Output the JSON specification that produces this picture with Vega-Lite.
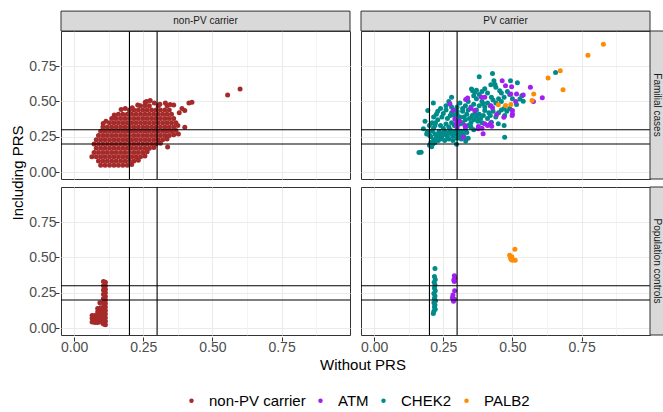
{
"$schema":"https://vega.github.io/schema/vega-lite/v6.json",
"padding":{"left":10,"top":10,"right":0,"bottom":0},
"data":{"values":[
{"gene":"non-PV carrier","cohort":"Familial cases","without":0.096,"with":0.05},{"gene":"non-PV carrier","cohort":"Familial cases","without":0.112,"with":0.05},{"gene":"non-PV carrier","cohort":"Familial cases","without":0.128,"with":0.05},{"gene":"non-PV carrier","cohort":"Familial cases","without":0.144,"with":0.05},{"gene":"non-PV carrier","cohort":"Familial cases","without":0.16,"with":0.05},{"gene":"non-PV carrier","cohort":"Familial cases","without":0.176,"with":0.05},{"gene":"non-PV carrier","cohort":"Familial cases","without":0.192,"with":0.05},{"gene":"non-PV carrier","cohort":"Familial cases","without":0.208,"with":0.055},
{"gene":"non-PV carrier","cohort":"Familial cases","without":0.088,"with":0.08},{"gene":"non-PV carrier","cohort":"Familial cases","without":0.104,"with":0.08},{"gene":"non-PV carrier","cohort":"Familial cases","without":0.12,"with":0.08},{"gene":"non-PV carrier","cohort":"Familial cases","without":0.136,"with":0.08},{"gene":"non-PV carrier","cohort":"Familial cases","without":0.152,"with":0.08},{"gene":"non-PV carrier","cohort":"Familial cases","without":0.168,"with":0.08},{"gene":"non-PV carrier","cohort":"Familial cases","without":0.184,"with":0.08},{"gene":"non-PV carrier","cohort":"Familial cases","without":0.2,"with":0.08},{"gene":"non-PV carrier","cohort":"Familial cases","without":0.216,"with":0.08},{"gene":"non-PV carrier","cohort":"Familial cases","without":0.232,"with":0.085},
{"gene":"non-PV carrier","cohort":"Familial cases","without":0.064,"with":0.11},{"gene":"non-PV carrier","cohort":"Familial cases","without":0.08,"with":0.11},{"gene":"non-PV carrier","cohort":"Familial cases","without":0.096,"with":0.11},{"gene":"non-PV carrier","cohort":"Familial cases","without":0.112,"with":0.11},{"gene":"non-PV carrier","cohort":"Familial cases","without":0.128,"with":0.11},{"gene":"non-PV carrier","cohort":"Familial cases","without":0.144,"with":0.11},{"gene":"non-PV carrier","cohort":"Familial cases","without":0.16,"with":0.11},{"gene":"non-PV carrier","cohort":"Familial cases","without":0.176,"with":0.11},{"gene":"non-PV carrier","cohort":"Familial cases","without":0.192,"with":0.11},{"gene":"non-PV carrier","cohort":"Familial cases","without":0.208,"with":0.11},{"gene":"non-PV carrier","cohort":"Familial cases","without":0.224,"with":0.11},{"gene":"non-PV carrier","cohort":"Familial cases","without":0.24,"with":0.11},{"gene":"non-PV carrier","cohort":"Familial cases","without":0.256,"with":0.115},
{"gene":"non-PV carrier","cohort":"Familial cases","without":0.072,"with":0.14},{"gene":"non-PV carrier","cohort":"Familial cases","without":0.088,"with":0.14},{"gene":"non-PV carrier","cohort":"Familial cases","without":0.104,"with":0.14},{"gene":"non-PV carrier","cohort":"Familial cases","without":0.12,"with":0.14},{"gene":"non-PV carrier","cohort":"Familial cases","without":0.136,"with":0.14},{"gene":"non-PV carrier","cohort":"Familial cases","without":0.152,"with":0.14},{"gene":"non-PV carrier","cohort":"Familial cases","without":0.168,"with":0.14},{"gene":"non-PV carrier","cohort":"Familial cases","without":0.184,"with":0.14},{"gene":"non-PV carrier","cohort":"Familial cases","without":0.2,"with":0.14},{"gene":"non-PV carrier","cohort":"Familial cases","without":0.216,"with":0.14},{"gene":"non-PV carrier","cohort":"Familial cases","without":0.232,"with":0.14},{"gene":"non-PV carrier","cohort":"Familial cases","without":0.248,"with":0.14},{"gene":"non-PV carrier","cohort":"Familial cases","without":0.264,"with":0.145},
{"gene":"non-PV carrier","cohort":"Familial cases","without":0.08,"with":0.17},{"gene":"non-PV carrier","cohort":"Familial cases","without":0.096,"with":0.17},{"gene":"non-PV carrier","cohort":"Familial cases","without":0.112,"with":0.17},{"gene":"non-PV carrier","cohort":"Familial cases","without":0.128,"with":0.17},{"gene":"non-PV carrier","cohort":"Familial cases","without":0.144,"with":0.17},{"gene":"non-PV carrier","cohort":"Familial cases","without":0.16,"with":0.17},{"gene":"non-PV carrier","cohort":"Familial cases","without":0.176,"with":0.17},{"gene":"non-PV carrier","cohort":"Familial cases","without":0.192,"with":0.17},{"gene":"non-PV carrier","cohort":"Familial cases","without":0.208,"with":0.17},{"gene":"non-PV carrier","cohort":"Familial cases","without":0.224,"with":0.17},{"gene":"non-PV carrier","cohort":"Familial cases","without":0.24,"with":0.17},{"gene":"non-PV carrier","cohort":"Familial cases","without":0.256,"with":0.17},{"gene":"non-PV carrier","cohort":"Familial cases","without":0.272,"with":0.17},{"gene":"non-PV carrier","cohort":"Familial cases","without":0.288,"with":0.175},
{"gene":"non-PV carrier","cohort":"Familial cases","without":0.072,"with":0.2},{"gene":"non-PV carrier","cohort":"Familial cases","without":0.088,"with":0.2},{"gene":"non-PV carrier","cohort":"Familial cases","without":0.104,"with":0.2},{"gene":"non-PV carrier","cohort":"Familial cases","without":0.12,"with":0.2},{"gene":"non-PV carrier","cohort":"Familial cases","without":0.136,"with":0.2},{"gene":"non-PV carrier","cohort":"Familial cases","without":0.152,"with":0.2},{"gene":"non-PV carrier","cohort":"Familial cases","without":0.168,"with":0.2},{"gene":"non-PV carrier","cohort":"Familial cases","without":0.184,"with":0.2},{"gene":"non-PV carrier","cohort":"Familial cases","without":0.2,"with":0.2},{"gene":"non-PV carrier","cohort":"Familial cases","without":0.216,"with":0.2},{"gene":"non-PV carrier","cohort":"Familial cases","without":0.232,"with":0.2},{"gene":"non-PV carrier","cohort":"Familial cases","without":0.248,"with":0.2},{"gene":"non-PV carrier","cohort":"Familial cases","without":0.264,"with":0.2},{"gene":"non-PV carrier","cohort":"Familial cases","without":0.28,"with":0.2},{"gene":"non-PV carrier","cohort":"Familial cases","without":0.296,"with":0.2},{"gene":"non-PV carrier","cohort":"Familial cases","without":0.312,"with":0.205},
{"gene":"non-PV carrier","cohort":"Familial cases","without":0.08,"with":0.23},{"gene":"non-PV carrier","cohort":"Familial cases","without":0.096,"with":0.23},{"gene":"non-PV carrier","cohort":"Familial cases","without":0.112,"with":0.23},{"gene":"non-PV carrier","cohort":"Familial cases","without":0.128,"with":0.23},{"gene":"non-PV carrier","cohort":"Familial cases","without":0.144,"with":0.23},{"gene":"non-PV carrier","cohort":"Familial cases","without":0.16,"with":0.23},{"gene":"non-PV carrier","cohort":"Familial cases","without":0.176,"with":0.23},{"gene":"non-PV carrier","cohort":"Familial cases","without":0.192,"with":0.23},{"gene":"non-PV carrier","cohort":"Familial cases","without":0.208,"with":0.23},{"gene":"non-PV carrier","cohort":"Familial cases","without":0.224,"with":0.23},{"gene":"non-PV carrier","cohort":"Familial cases","without":0.24,"with":0.23},{"gene":"non-PV carrier","cohort":"Familial cases","without":0.256,"with":0.23},{"gene":"non-PV carrier","cohort":"Familial cases","without":0.272,"with":0.23},{"gene":"non-PV carrier","cohort":"Familial cases","without":0.288,"with":0.23},{"gene":"non-PV carrier","cohort":"Familial cases","without":0.304,"with":0.23},{"gene":"non-PV carrier","cohort":"Familial cases","without":0.32,"with":0.23},{"gene":"non-PV carrier","cohort":"Familial cases","without":0.336,"with":0.235},
{"gene":"non-PV carrier","cohort":"Familial cases","without":0.088,"with":0.26},{"gene":"non-PV carrier","cohort":"Familial cases","without":0.104,"with":0.26},{"gene":"non-PV carrier","cohort":"Familial cases","without":0.12,"with":0.26},{"gene":"non-PV carrier","cohort":"Familial cases","without":0.136,"with":0.26},{"gene":"non-PV carrier","cohort":"Familial cases","without":0.152,"with":0.26},{"gene":"non-PV carrier","cohort":"Familial cases","without":0.168,"with":0.26},{"gene":"non-PV carrier","cohort":"Familial cases","without":0.184,"with":0.26},{"gene":"non-PV carrier","cohort":"Familial cases","without":0.2,"with":0.26},{"gene":"non-PV carrier","cohort":"Familial cases","without":0.216,"with":0.26},{"gene":"non-PV carrier","cohort":"Familial cases","without":0.232,"with":0.26},{"gene":"non-PV carrier","cohort":"Familial cases","without":0.248,"with":0.26},{"gene":"non-PV carrier","cohort":"Familial cases","without":0.264,"with":0.26},{"gene":"non-PV carrier","cohort":"Familial cases","without":0.28,"with":0.26},{"gene":"non-PV carrier","cohort":"Familial cases","without":0.296,"with":0.26},{"gene":"non-PV carrier","cohort":"Familial cases","without":0.312,"with":0.26},{"gene":"non-PV carrier","cohort":"Familial cases","without":0.328,"with":0.26},{"gene":"non-PV carrier","cohort":"Familial cases","without":0.344,"with":0.26},{"gene":"non-PV carrier","cohort":"Familial cases","without":0.36,"with":0.265},
{"gene":"non-PV carrier","cohort":"Familial cases","without":0.096,"with":0.29},{"gene":"non-PV carrier","cohort":"Familial cases","without":0.112,"with":0.29},{"gene":"non-PV carrier","cohort":"Familial cases","without":0.128,"with":0.29},{"gene":"non-PV carrier","cohort":"Familial cases","without":0.144,"with":0.29},{"gene":"non-PV carrier","cohort":"Familial cases","without":0.16,"with":0.29},{"gene":"non-PV carrier","cohort":"Familial cases","without":0.176,"with":0.29},{"gene":"non-PV carrier","cohort":"Familial cases","without":0.192,"with":0.29},{"gene":"non-PV carrier","cohort":"Familial cases","without":0.208,"with":0.29},{"gene":"non-PV carrier","cohort":"Familial cases","without":0.224,"with":0.29},{"gene":"non-PV carrier","cohort":"Familial cases","without":0.24,"with":0.29},{"gene":"non-PV carrier","cohort":"Familial cases","without":0.256,"with":0.29},{"gene":"non-PV carrier","cohort":"Familial cases","without":0.272,"with":0.29},{"gene":"non-PV carrier","cohort":"Familial cases","without":0.288,"with":0.29},{"gene":"non-PV carrier","cohort":"Familial cases","without":0.304,"with":0.29},{"gene":"non-PV carrier","cohort":"Familial cases","without":0.32,"with":0.29},{"gene":"non-PV carrier","cohort":"Familial cases","without":0.336,"with":0.29},{"gene":"non-PV carrier","cohort":"Familial cases","without":0.352,"with":0.29},{"gene":"non-PV carrier","cohort":"Familial cases","without":0.368,"with":0.295},
{"gene":"non-PV carrier","cohort":"Familial cases","without":0.104,"with":0.32},{"gene":"non-PV carrier","cohort":"Familial cases","without":0.12,"with":0.32},{"gene":"non-PV carrier","cohort":"Familial cases","without":0.136,"with":0.32},{"gene":"non-PV carrier","cohort":"Familial cases","without":0.152,"with":0.32},{"gene":"non-PV carrier","cohort":"Familial cases","without":0.168,"with":0.32},{"gene":"non-PV carrier","cohort":"Familial cases","without":0.184,"with":0.32},{"gene":"non-PV carrier","cohort":"Familial cases","without":0.2,"with":0.32},{"gene":"non-PV carrier","cohort":"Familial cases","without":0.216,"with":0.32},{"gene":"non-PV carrier","cohort":"Familial cases","without":0.232,"with":0.32},{"gene":"non-PV carrier","cohort":"Familial cases","without":0.248,"with":0.32},{"gene":"non-PV carrier","cohort":"Familial cases","without":0.264,"with":0.32},{"gene":"non-PV carrier","cohort":"Familial cases","without":0.28,"with":0.32},{"gene":"non-PV carrier","cohort":"Familial cases","without":0.296,"with":0.32},{"gene":"non-PV carrier","cohort":"Familial cases","without":0.312,"with":0.32},{"gene":"non-PV carrier","cohort":"Familial cases","without":0.328,"with":0.32},{"gene":"non-PV carrier","cohort":"Familial cases","without":0.344,"with":0.32},{"gene":"non-PV carrier","cohort":"Familial cases","without":0.36,"with":0.32},
{"gene":"non-PV carrier","cohort":"Familial cases","without":0.128,"with":0.35},{"gene":"non-PV carrier","cohort":"Familial cases","without":0.144,"with":0.35},{"gene":"non-PV carrier","cohort":"Familial cases","without":0.16,"with":0.35},{"gene":"non-PV carrier","cohort":"Familial cases","without":0.176,"with":0.35},{"gene":"non-PV carrier","cohort":"Familial cases","without":0.192,"with":0.35},{"gene":"non-PV carrier","cohort":"Familial cases","without":0.208,"with":0.35},{"gene":"non-PV carrier","cohort":"Familial cases","without":0.224,"with":0.35},{"gene":"non-PV carrier","cohort":"Familial cases","without":0.24,"with":0.35},{"gene":"non-PV carrier","cohort":"Familial cases","without":0.256,"with":0.35},{"gene":"non-PV carrier","cohort":"Familial cases","without":0.272,"with":0.35},{"gene":"non-PV carrier","cohort":"Familial cases","without":0.288,"with":0.35},{"gene":"non-PV carrier","cohort":"Familial cases","without":0.304,"with":0.35},{"gene":"non-PV carrier","cohort":"Familial cases","without":0.32,"with":0.35},{"gene":"non-PV carrier","cohort":"Familial cases","without":0.336,"with":0.35},{"gene":"non-PV carrier","cohort":"Familial cases","without":0.352,"with":0.35},{"gene":"non-PV carrier","cohort":"Familial cases","without":0.368,"with":0.35},
{"gene":"non-PV carrier","cohort":"Familial cases","without":0.136,"with":0.38},{"gene":"non-PV carrier","cohort":"Familial cases","without":0.152,"with":0.38},{"gene":"non-PV carrier","cohort":"Familial cases","without":0.168,"with":0.38},{"gene":"non-PV carrier","cohort":"Familial cases","without":0.184,"with":0.38},{"gene":"non-PV carrier","cohort":"Familial cases","without":0.2,"with":0.38},{"gene":"non-PV carrier","cohort":"Familial cases","without":0.216,"with":0.38},{"gene":"non-PV carrier","cohort":"Familial cases","without":0.232,"with":0.38},{"gene":"non-PV carrier","cohort":"Familial cases","without":0.248,"with":0.38},{"gene":"non-PV carrier","cohort":"Familial cases","without":0.264,"with":0.38},{"gene":"non-PV carrier","cohort":"Familial cases","without":0.28,"with":0.38},{"gene":"non-PV carrier","cohort":"Familial cases","without":0.296,"with":0.38},{"gene":"non-PV carrier","cohort":"Familial cases","without":0.312,"with":0.38},{"gene":"non-PV carrier","cohort":"Familial cases","without":0.328,"with":0.38},{"gene":"non-PV carrier","cohort":"Familial cases","without":0.344,"with":0.38},{"gene":"non-PV carrier","cohort":"Familial cases","without":0.36,"with":0.38},
{"gene":"non-PV carrier","cohort":"Familial cases","without":0.16,"with":0.41},{"gene":"non-PV carrier","cohort":"Familial cases","without":0.176,"with":0.41},{"gene":"non-PV carrier","cohort":"Familial cases","without":0.192,"with":0.41},{"gene":"non-PV carrier","cohort":"Familial cases","without":0.208,"with":0.41},{"gene":"non-PV carrier","cohort":"Familial cases","without":0.224,"with":0.41},{"gene":"non-PV carrier","cohort":"Familial cases","without":0.24,"with":0.41},{"gene":"non-PV carrier","cohort":"Familial cases","without":0.256,"with":0.41},{"gene":"non-PV carrier","cohort":"Familial cases","without":0.272,"with":0.41},{"gene":"non-PV carrier","cohort":"Familial cases","without":0.288,"with":0.41},{"gene":"non-PV carrier","cohort":"Familial cases","without":0.304,"with":0.41},{"gene":"non-PV carrier","cohort":"Familial cases","without":0.32,"with":0.41},{"gene":"non-PV carrier","cohort":"Familial cases","without":0.336,"with":0.41},{"gene":"non-PV carrier","cohort":"Familial cases","without":0.352,"with":0.41},
{"gene":"non-PV carrier","cohort":"Familial cases","without":0.2,"with":0.44},{"gene":"non-PV carrier","cohort":"Familial cases","without":0.216,"with":0.44},{"gene":"non-PV carrier","cohort":"Familial cases","without":0.232,"with":0.44},{"gene":"non-PV carrier","cohort":"Familial cases","without":0.248,"with":0.44},{"gene":"non-PV carrier","cohort":"Familial cases","without":0.264,"with":0.44},{"gene":"non-PV carrier","cohort":"Familial cases","without":0.28,"with":0.44},{"gene":"non-PV carrier","cohort":"Familial cases","without":0.296,"with":0.44},{"gene":"non-PV carrier","cohort":"Familial cases","without":0.312,"with":0.44},{"gene":"non-PV carrier","cohort":"Familial cases","without":0.328,"with":0.44},{"gene":"non-PV carrier","cohort":"Familial cases","without":0.344,"with":0.44},
{"gene":"non-PV carrier","cohort":"Familial cases","without":0.24,"with":0.47},{"gene":"non-PV carrier","cohort":"Familial cases","without":0.256,"with":0.47},{"gene":"non-PV carrier","cohort":"Familial cases","without":0.272,"with":0.47},{"gene":"non-PV carrier","cohort":"Familial cases","without":0.304,"with":0.47},{"gene":"non-PV carrier","cohort":"Familial cases","without":0.336,"with":0.47},
{"gene":"non-PV carrier","cohort":"Familial cases","without":0.145,"with":0.405},{"gene":"non-PV carrier","cohort":"Familial cases","without":0.17,"with":0.443},{"gene":"non-PV carrier","cohort":"Familial cases","without":0.185,"with":0.45},{"gene":"non-PV carrier","cohort":"Familial cases","without":0.105,"with":0.345},{"gene":"non-PV carrier","cohort":"Familial cases","without":0.115,"with":0.36},{"gene":"non-PV carrier","cohort":"Familial cases","without":0.257,"with":0.494},{"gene":"non-PV carrier","cohort":"Familial cases","without":0.275,"with":0.506},{"gene":"non-PV carrier","cohort":"Familial cases","without":0.262,"with":0.5},{"gene":"non-PV carrier","cohort":"Familial cases","without":0.347,"with":0.478},{"gene":"non-PV carrier","cohort":"Familial cases","without":0.36,"with":0.475},{"gene":"non-PV carrier","cohort":"Familial cases","without":0.4,"with":0.436},{"gene":"non-PV carrier","cohort":"Familial cases","without":0.426,"with":0.494},{"gene":"non-PV carrier","cohort":"Familial cases","without":0.415,"with":0.49},{"gene":"non-PV carrier","cohort":"Familial cases","without":0.4,"with":0.318},{"gene":"non-PV carrier","cohort":"Familial cases","without":0.338,"with":0.178},{"gene":"non-PV carrier","cohort":"Familial cases","without":0.377,"with":0.27},{"gene":"non-PV carrier","cohort":"Familial cases","without":0.375,"with":0.33},{"gene":"non-PV carrier","cohort":"Familial cases","without":0.38,"with":0.42},{"gene":"non-PV carrier","cohort":"Familial cases","without":0.39,"with":0.45},{"gene":"non-PV carrier","cohort":"Familial cases","without":0.23,"with":0.475},{"gene":"non-PV carrier","cohort":"Familial cases","without":0.29,"with":0.49},{"gene":"non-PV carrier","cohort":"Familial cases","without":0.31,"with":0.48},{"gene":"non-PV carrier","cohort":"Familial cases","without":0.33,"with":0.49},{"gene":"non-PV carrier","cohort":"Familial cases","without":0.21,"with":0.455},{"gene":"non-PV carrier","cohort":"Familial cases","without":0.555,"with":0.546},{"gene":"non-PV carrier","cohort":"Familial cases","without":0.6,"with":0.588},
{"gene":"non-PV carrier","cohort":"Population controls","without":0.113,"with":0.025},{"gene":"non-PV carrier","cohort":"Population controls","without":0.113,"with":0.05},{"gene":"non-PV carrier","cohort":"Population controls","without":0.113,"with":0.075},{"gene":"non-PV carrier","cohort":"Population controls","without":0.113,"with":0.1},{"gene":"non-PV carrier","cohort":"Population controls","without":0.113,"with":0.125},{"gene":"non-PV carrier","cohort":"Population controls","without":0.113,"with":0.15},{"gene":"non-PV carrier","cohort":"Population controls","without":0.113,"with":0.175},{"gene":"non-PV carrier","cohort":"Population controls","without":0.113,"with":0.2},{"gene":"non-PV carrier","cohort":"Population controls","without":0.113,"with":0.225},{"gene":"non-PV carrier","cohort":"Population controls","without":0.113,"with":0.25},{"gene":"non-PV carrier","cohort":"Population controls","without":0.113,"with":0.275},{"gene":"non-PV carrier","cohort":"Population controls","without":0.113,"with":0.3},{"gene":"non-PV carrier","cohort":"Population controls","without":0.113,"with":0.325},
{"gene":"non-PV carrier","cohort":"Population controls","without":0.106,"with":0.03},{"gene":"non-PV carrier","cohort":"Population controls","without":0.106,"with":0.06},{"gene":"non-PV carrier","cohort":"Population controls","without":0.106,"with":0.09},{"gene":"non-PV carrier","cohort":"Population controls","without":0.106,"with":0.12},{"gene":"non-PV carrier","cohort":"Population controls","without":0.106,"with":0.15},{"gene":"non-PV carrier","cohort":"Population controls","without":0.106,"with":0.18},{"gene":"non-PV carrier","cohort":"Population controls","without":0.106,"with":0.21},{"gene":"non-PV carrier","cohort":"Population controls","without":0.106,"with":0.24},{"gene":"non-PV carrier","cohort":"Population controls","without":0.106,"with":0.27},{"gene":"non-PV carrier","cohort":"Population controls","without":0.106,"with":0.3},{"gene":"non-PV carrier","cohort":"Population controls","without":0.106,"with":0.33},
{"gene":"non-PV carrier","cohort":"Population controls","without":0.065,"with":0.045},{"gene":"non-PV carrier","cohort":"Population controls","without":0.065,"with":0.07},{"gene":"non-PV carrier","cohort":"Population controls","without":0.065,"with":0.09},{"gene":"non-PV carrier","cohort":"Population controls","without":0.075,"with":0.04},{"gene":"non-PV carrier","cohort":"Population controls","without":0.075,"with":0.065},{"gene":"non-PV carrier","cohort":"Population controls","without":0.075,"with":0.09},{"gene":"non-PV carrier","cohort":"Population controls","without":0.085,"with":0.04},{"gene":"non-PV carrier","cohort":"Population controls","without":0.085,"with":0.065},{"gene":"non-PV carrier","cohort":"Population controls","without":0.085,"with":0.09},{"gene":"non-PV carrier","cohort":"Population controls","without":0.085,"with":0.115},{"gene":"non-PV carrier","cohort":"Population controls","without":0.085,"with":0.14},{"gene":"non-PV carrier","cohort":"Population controls","without":0.095,"with":0.045},{"gene":"non-PV carrier","cohort":"Population controls","without":0.095,"with":0.07},{"gene":"non-PV carrier","cohort":"Population controls","without":0.095,"with":0.095},{"gene":"non-PV carrier","cohort":"Population controls","without":0.095,"with":0.12},{"gene":"non-PV carrier","cohort":"Population controls","without":0.095,"with":0.145},{"gene":"non-PV carrier","cohort":"Population controls","without":0.093,"with":0.18},
{"gene":"CHEK2","cohort":"Familial cases","without":0.162,"with":0.14},{"gene":"CHEK2","cohort":"Familial cases","without":0.17,"with":0.142},{"gene":"CHEK2","cohort":"Familial cases","without":0.2,"with":0.19},{"gene":"CHEK2","cohort":"Familial cases","without":0.208,"with":0.18},{"gene":"CHEK2","cohort":"Familial cases","without":0.212,"with":0.2},{"gene":"CHEK2","cohort":"Familial cases","without":0.205,"with":0.21},{"gene":"CHEK2","cohort":"Familial cases","without":0.232,"with":0.225},{"gene":"CHEK2","cohort":"Familial cases","without":0.298,"with":0.197},{"gene":"CHEK2","cohort":"Familial cases","without":0.331,"with":0.22},{"gene":"CHEK2","cohort":"Familial cases","without":0.214,"with":0.49},{"gene":"CHEK2","cohort":"Familial cases","without":0.194,"with":0.436},{"gene":"CHEK2","cohort":"Familial cases","without":0.184,"with":0.361},{"gene":"CHEK2","cohort":"Familial cases","without":0.178,"with":0.307},{"gene":"CHEK2","cohort":"Familial cases","without":0.222,"with":0.349},
{"gene":"CHEK2","cohort":"Familial cases","without":0.19,"with":0.27},{"gene":"CHEK2","cohort":"Familial cases","without":0.192,"with":0.285},{"gene":"CHEK2","cohort":"Familial cases","without":0.2,"with":0.262},{"gene":"CHEK2","cohort":"Familial cases","without":0.205,"with":0.25},{"gene":"CHEK2","cohort":"Familial cases","without":0.21,"with":0.29},{"gene":"CHEK2","cohort":"Familial cases","without":0.215,"with":0.31},{"gene":"CHEK2","cohort":"Familial cases","without":0.22,"with":0.27},{"gene":"CHEK2","cohort":"Familial cases","without":0.225,"with":0.245},{"gene":"CHEK2","cohort":"Familial cases","without":0.23,"with":0.26},{"gene":"CHEK2","cohort":"Familial cases","without":0.235,"with":0.29},{"gene":"CHEK2","cohort":"Familial cases","without":0.24,"with":0.275},{"gene":"CHEK2","cohort":"Familial cases","without":0.245,"with":0.25},{"gene":"CHEK2","cohort":"Familial cases","without":0.25,"with":0.27},{"gene":"CHEK2","cohort":"Familial cases","without":0.255,"with":0.29},{"gene":"CHEK2","cohort":"Familial cases","without":0.26,"with":0.265},{"gene":"CHEK2","cohort":"Familial cases","without":0.265,"with":0.25},{"gene":"CHEK2","cohort":"Familial cases","without":0.27,"with":0.28},{"gene":"CHEK2","cohort":"Familial cases","without":0.275,"with":0.3},{"gene":"CHEK2","cohort":"Familial cases","without":0.28,"with":0.27},{"gene":"CHEK2","cohort":"Familial cases","without":0.285,"with":0.255},{"gene":"CHEK2","cohort":"Familial cases","without":0.29,"with":0.285},{"gene":"CHEK2","cohort":"Familial cases","without":0.295,"with":0.27},{"gene":"CHEK2","cohort":"Familial cases","without":0.3,"with":0.3},{"gene":"CHEK2","cohort":"Familial cases","without":0.305,"with":0.28},{"gene":"CHEK2","cohort":"Familial cases","without":0.31,"with":0.26},{"gene":"CHEK2","cohort":"Familial cases","without":0.315,"with":0.29},{"gene":"CHEK2","cohort":"Familial cases","without":0.32,"with":0.27},{"gene":"CHEK2","cohort":"Familial cases","without":0.325,"with":0.25},{"gene":"CHEK2","cohort":"Familial cases","without":0.33,"with":0.3},{"gene":"CHEK2","cohort":"Familial cases","without":0.335,"with":0.28},{"gene":"CHEK2","cohort":"Familial cases","without":0.34,"with":0.24},
{"gene":"CHEK2","cohort":"Familial cases","without":0.215,"with":0.23},{"gene":"CHEK2","cohort":"Familial cases","without":0.22,"with":0.21},{"gene":"CHEK2","cohort":"Familial cases","without":0.24,"with":0.235},{"gene":"CHEK2","cohort":"Familial cases","without":0.255,"with":0.225},{"gene":"CHEK2","cohort":"Familial cases","without":0.27,"with":0.235},{"gene":"CHEK2","cohort":"Familial cases","without":0.285,"with":0.225},{"gene":"CHEK2","cohort":"Familial cases","without":0.3,"with":0.24},{"gene":"CHEK2","cohort":"Familial cases","without":0.315,"with":0.235},
{"gene":"CHEK2","cohort":"Familial cases","without":0.25,"with":0.31},{"gene":"CHEK2","cohort":"Familial cases","without":0.24,"with":0.33},{"gene":"CHEK2","cohort":"Familial cases","without":0.26,"with":0.34},{"gene":"CHEK2","cohort":"Familial cases","without":0.27,"with":0.32},{"gene":"CHEK2","cohort":"Familial cases","without":0.28,"with":0.35},{"gene":"CHEK2","cohort":"Familial cases","without":0.29,"with":0.33},{"gene":"CHEK2","cohort":"Familial cases","without":0.22,"with":0.33},{"gene":"CHEK2","cohort":"Familial cases","without":0.23,"with":0.37},{"gene":"CHEK2","cohort":"Familial cases","without":0.215,"with":0.39},{"gene":"CHEK2","cohort":"Familial cases","without":0.225,"with":0.41},{"gene":"CHEK2","cohort":"Familial cases","without":0.245,"with":0.39},{"gene":"CHEK2","cohort":"Familial cases","without":0.25,"with":0.415},{"gene":"CHEK2","cohort":"Familial cases","without":0.265,"with":0.38},{"gene":"CHEK2","cohort":"Familial cases","without":0.275,"with":0.4},{"gene":"CHEK2","cohort":"Familial cases","without":0.28,"with":0.42},{"gene":"CHEK2","cohort":"Familial cases","without":0.29,"with":0.4},{"gene":"CHEK2","cohort":"Familial cases","without":0.3,"with":0.36},{"gene":"CHEK2","cohort":"Familial cases","without":0.31,"with":0.34},{"gene":"CHEK2","cohort":"Familial cases","without":0.32,"with":0.35},{"gene":"CHEK2","cohort":"Familial cases","without":0.33,"with":0.37},{"gene":"CHEK2","cohort":"Familial cases","without":0.34,"with":0.33},{"gene":"CHEK2","cohort":"Familial cases","without":0.35,"with":0.32},{"gene":"CHEK2","cohort":"Familial cases","without":0.36,"with":0.3},{"gene":"CHEK2","cohort":"Familial cases","without":0.35,"with":0.35},{"gene":"CHEK2","cohort":"Familial cases","without":0.3,"with":0.41},{"gene":"CHEK2","cohort":"Familial cases","without":0.31,"with":0.39},{"gene":"CHEK2","cohort":"Familial cases","without":0.32,"with":0.43},{"gene":"CHEK2","cohort":"Familial cases","without":0.325,"with":0.39},{"gene":"CHEK2","cohort":"Familial cases","without":0.335,"with":0.41},{"gene":"CHEK2","cohort":"Familial cases","without":0.34,"with":0.44},{"gene":"CHEK2","cohort":"Familial cases","without":0.345,"with":0.38},{"gene":"CHEK2","cohort":"Familial cases","without":0.355,"with":0.4},{"gene":"CHEK2","cohort":"Familial cases","without":0.36,"with":0.37},{"gene":"CHEK2","cohort":"Familial cases","without":0.365,"with":0.42},{"gene":"CHEK2","cohort":"Familial cases","without":0.37,"with":0.39},{"gene":"CHEK2","cohort":"Familial cases","without":0.375,"with":0.36},{"gene":"CHEK2","cohort":"Familial cases","without":0.38,"with":0.41},{"gene":"CHEK2","cohort":"Familial cases","without":0.385,"with":0.38},{"gene":"CHEK2","cohort":"Familial cases","without":0.39,"with":0.35},{"gene":"CHEK2","cohort":"Familial cases","without":0.395,"with":0.4},{"gene":"CHEK2","cohort":"Familial cases","without":0.4,"with":0.436},{"gene":"CHEK2","cohort":"Familial cases","without":0.41,"with":0.38},{"gene":"CHEK2","cohort":"Familial cases","without":0.415,"with":0.42},{"gene":"CHEK2","cohort":"Familial cases","without":0.42,"with":0.4},{"gene":"CHEK2","cohort":"Familial cases","without":0.424,"with":0.354},{"gene":"CHEK2","cohort":"Familial cases","without":0.43,"with":0.43},{"gene":"CHEK2","cohort":"Familial cases","without":0.44,"with":0.39},{"gene":"CHEK2","cohort":"Familial cases","without":0.449,"with":0.342},{"gene":"CHEK2","cohort":"Familial cases","without":0.47,"with":0.33},{"gene":"CHEK2","cohort":"Familial cases","without":0.472,"with":0.4},{"gene":"CHEK2","cohort":"Familial cases","without":0.472,"with":0.248},{"gene":"CHEK2","cohort":"Familial cases","without":0.45,"with":0.42},{"gene":"CHEK2","cohort":"Familial cases","without":0.46,"with":0.44},{"gene":"CHEK2","cohort":"Familial cases","without":0.47,"with":0.45},{"gene":"CHEK2","cohort":"Familial cases","without":0.49,"with":0.45},{"gene":"CHEK2","cohort":"Familial cases","without":0.48,"with":0.43},
{"gene":"CHEK2","cohort":"Familial cases","without":0.3,"with":0.46},{"gene":"CHEK2","cohort":"Familial cases","without":0.31,"with":0.49},{"gene":"CHEK2","cohort":"Familial cases","without":0.32,"with":0.45},{"gene":"CHEK2","cohort":"Familial cases","without":0.33,"with":0.47},{"gene":"CHEK2","cohort":"Familial cases","without":0.34,"with":0.5},{"gene":"CHEK2","cohort":"Familial cases","without":0.35,"with":0.46},{"gene":"CHEK2","cohort":"Familial cases","without":0.36,"with":0.48},{"gene":"CHEK2","cohort":"Familial cases","without":0.37,"with":0.44},{"gene":"CHEK2","cohort":"Familial cases","without":0.38,"with":0.47},{"gene":"CHEK2","cohort":"Familial cases","without":0.39,"with":0.5},{"gene":"CHEK2","cohort":"Familial cases","without":0.394,"with":0.483},{"gene":"CHEK2","cohort":"Familial cases","without":0.4,"with":0.46},{"gene":"CHEK2","cohort":"Familial cases","without":0.41,"with":0.49},{"gene":"CHEK2","cohort":"Familial cases","without":0.42,"with":0.47},{"gene":"CHEK2","cohort":"Familial cases","without":0.424,"with":0.529},{"gene":"CHEK2","cohort":"Familial cases","without":0.43,"with":0.51},{"gene":"CHEK2","cohort":"Familial cases","without":0.44,"with":0.49},{"gene":"CHEK2","cohort":"Familial cases","without":0.45,"with":0.52},{"gene":"CHEK2","cohort":"Familial cases","without":0.46,"with":0.5},{"gene":"CHEK2","cohort":"Familial cases","without":0.352,"with":0.588},{"gene":"CHEK2","cohort":"Familial cases","without":0.364,"with":0.565},{"gene":"CHEK2","cohort":"Familial cases","without":0.36,"with":0.54},{"gene":"CHEK2","cohort":"Familial cases","without":0.37,"with":0.52},{"gene":"CHEK2","cohort":"Familial cases","without":0.38,"with":0.55},{"gene":"CHEK2","cohort":"Familial cases","without":0.38,"with":0.675},{"gene":"CHEK2","cohort":"Familial cases","without":0.37,"with":0.58},{"gene":"CHEK2","cohort":"Familial cases","without":0.39,"with":0.57},{"gene":"CHEK2","cohort":"Familial cases","without":0.4,"with":0.59},{"gene":"CHEK2","cohort":"Familial cases","without":0.41,"with":0.56},{"gene":"CHEK2","cohort":"Familial cases","without":0.422,"with":0.618},{"gene":"CHEK2","cohort":"Familial cases","without":0.428,"with":0.698},{"gene":"CHEK2","cohort":"Familial cases","without":0.433,"with":0.646},{"gene":"CHEK2","cohort":"Familial cases","without":0.437,"with":0.62},{"gene":"CHEK2","cohort":"Familial cases","without":0.44,"with":0.6},{"gene":"CHEK2","cohort":"Familial cases","without":0.454,"with":0.576},{"gene":"CHEK2","cohort":"Familial cases","without":0.482,"with":0.57},{"gene":"CHEK2","cohort":"Familial cases","without":0.493,"with":0.646},{"gene":"CHEK2","cohort":"Familial cases","without":0.518,"with":0.632},{"gene":"CHEK2","cohort":"Familial cases","without":0.527,"with":0.518},{"gene":"CHEK2","cohort":"Familial cases","without":0.539,"with":0.501},{"gene":"CHEK2","cohort":"Familial cases","without":0.534,"with":0.541},{"gene":"CHEK2","cohort":"Familial cases","without":0.515,"with":0.478},{"gene":"CHEK2","cohort":"Familial cases","without":0.5,"with":0.52},{"gene":"CHEK2","cohort":"Familial cases","without":0.49,"with":0.55},{"gene":"CHEK2","cohort":"Familial cases","without":0.47,"with":0.53},{"gene":"CHEK2","cohort":"Familial cases","without":0.46,"with":0.56},{"gene":"CHEK2","cohort":"Familial cases","without":0.656,"with":0.705},{"gene":"CHEK2","cohort":"Familial cases","without":0.2,"with":0.33},{"gene":"CHEK2","cohort":"Familial cases","without":0.21,"with":0.35},{"gene":"CHEK2","cohort":"Familial cases","without":0.3,"with":0.43},{"gene":"CHEK2","cohort":"Familial cases","without":0.29,"with":0.44},{"gene":"CHEK2","cohort":"Familial cases","without":0.28,"with":0.46},{"gene":"CHEK2","cohort":"Familial cases","without":0.26,"with":0.44},{"gene":"CHEK2","cohort":"Familial cases","without":0.27,"with":0.5},{"gene":"CHEK2","cohort":"Familial cases","without":0.28,"with":0.53},{"gene":"CHEK2","cohort":"Familial cases","without":0.26,"with":0.47},{"gene":"CHEK2","cohort":"Familial cases","without":0.24,"with":0.45},{"gene":"CHEK2","cohort":"Familial cases","without":0.23,"with":0.43},{"gene":"CHEK2","cohort":"Familial cases","without":0.356,"with":0.576},
{"gene":"ATM","cohort":"Familial cases","without":0.274,"with":0.483},{"gene":"ATM","cohort":"Familial cases","without":0.286,"with":0.436},{"gene":"ATM","cohort":"Familial cases","without":0.292,"with":0.377},{"gene":"ATM","cohort":"Familial cases","without":0.298,"with":0.347},{"gene":"ATM","cohort":"Familial cases","without":0.3,"with":0.32},{"gene":"ATM","cohort":"Familial cases","without":0.33,"with":0.32},{"gene":"ATM","cohort":"Familial cases","without":0.322,"with":0.248},{"gene":"ATM","cohort":"Familial cases","without":0.328,"with":0.33},{"gene":"ATM","cohort":"Familial cases","without":0.331,"with":0.513},{"gene":"ATM","cohort":"Familial cases","without":0.338,"with":0.525},{"gene":"ATM","cohort":"Familial cases","without":0.364,"with":0.436},{"gene":"ATM","cohort":"Familial cases","without":0.376,"with":0.307},{"gene":"ATM","cohort":"Familial cases","without":0.377,"with":0.323},{"gene":"ATM","cohort":"Familial cases","without":0.394,"with":0.272},{"gene":"ATM","cohort":"Familial cases","without":0.4,"with":0.342},{"gene":"ATM","cohort":"Familial cases","without":0.388,"with":0.529},{"gene":"ATM","cohort":"Familial cases","without":0.4,"with":0.529},{"gene":"ATM","cohort":"Familial cases","without":0.421,"with":0.347},{"gene":"ATM","cohort":"Familial cases","without":0.422,"with":0.469},{"gene":"ATM","cohort":"Familial cases","without":0.428,"with":0.455},{"gene":"ATM","cohort":"Familial cases","without":0.443,"with":0.408},{"gene":"ATM","cohort":"Familial cases","without":0.469,"with":0.389},{"gene":"ATM","cohort":"Familial cases","without":0.499,"with":0.4},{"gene":"ATM","cohort":"Familial cases","without":0.5,"with":0.412},{"gene":"ATM","cohort":"Familial cases","without":0.5,"with":0.436},{"gene":"ATM","cohort":"Familial cases","without":0.463,"with":0.646},{"gene":"ATM","cohort":"Familial cases","without":0.475,"with":0.611},{"gene":"ATM","cohort":"Familial cases","without":0.497,"with":0.604},{"gene":"ATM","cohort":"Familial cases","without":0.494,"with":0.553},{"gene":"ATM","cohort":"Familial cases","without":0.515,"with":0.553},{"gene":"ATM","cohort":"Familial cases","without":0.539,"with":0.546},{"gene":"ATM","cohort":"Familial cases","without":0.565,"with":0.6},{"gene":"ATM","cohort":"Familial cases","without":0.576,"with":0.499},{"gene":"ATM","cohort":"Familial cases","without":0.608,"with":0.527},{"gene":"ATM","cohort":"Familial cases","without":0.512,"with":0.499},{"gene":"ATM","cohort":"Familial cases","without":0.31,"with":0.36},{"gene":"ATM","cohort":"Familial cases","without":0.35,"with":0.45},{"gene":"ATM","cohort":"Familial cases","without":0.39,"with":0.31},{"gene":"ATM","cohort":"Familial cases","without":0.41,"with":0.33},{"gene":"ATM","cohort":"Familial cases","without":0.425,"with":0.325},
{"gene":"PALB2","cohort":"Familial cases","without":0.829,"with":0.904},{"gene":"PALB2","cohort":"Familial cases","without":0.773,"with":0.827},{"gene":"PALB2","cohort":"Familial cases","without":0.673,"with":0.717},{"gene":"PALB2","cohort":"Familial cases","without":0.629,"with":0.665},{"gene":"PALB2","cohort":"Familial cases","without":0.683,"with":0.583},{"gene":"PALB2","cohort":"Familial cases","without":0.577,"with":0.553},{"gene":"PALB2","cohort":"Familial cases","without":0.571,"with":0.506},{"gene":"PALB2","cohort":"Familial cases","without":0.449,"with":0.476},{"gene":"PALB2","cohort":"Familial cases","without":0.475,"with":0.471},{"gene":"PALB2","cohort":"Familial cases","without":0.494,"with":0.478},
{"gene":"CHEK2","cohort":"Population controls","without":0.22,"with":0.422},{"gene":"CHEK2","cohort":"Population controls","without":0.218,"with":0.365},{"gene":"CHEK2","cohort":"Population controls","without":0.221,"with":0.345},{"gene":"CHEK2","cohort":"Population controls","without":0.217,"with":0.325},{"gene":"CHEK2","cohort":"Population controls","without":0.22,"with":0.305},{"gene":"CHEK2","cohort":"Population controls","without":0.218,"with":0.285},{"gene":"CHEK2","cohort":"Population controls","without":0.221,"with":0.265},{"gene":"CHEK2","cohort":"Population controls","without":0.216,"with":0.245},{"gene":"CHEK2","cohort":"Population controls","without":0.22,"with":0.228},{"gene":"CHEK2","cohort":"Population controls","without":0.218,"with":0.21},{"gene":"CHEK2","cohort":"Population controls","without":0.222,"with":0.195},{"gene":"CHEK2","cohort":"Population controls","without":0.216,"with":0.18},{"gene":"CHEK2","cohort":"Population controls","without":0.22,"with":0.165},{"gene":"CHEK2","cohort":"Population controls","without":0.218,"with":0.15},{"gene":"CHEK2","cohort":"Population controls","without":0.221,"with":0.135},{"gene":"CHEK2","cohort":"Population controls","without":0.216,"with":0.12},{"gene":"CHEK2","cohort":"Population controls","without":0.214,"with":0.105},
{"gene":"ATM","cohort":"Population controls","without":0.29,"with":0.37},{"gene":"ATM","cohort":"Population controls","without":0.292,"with":0.355},{"gene":"ATM","cohort":"Population controls","without":0.288,"with":0.34},{"gene":"ATM","cohort":"Population controls","without":0.29,"with":0.33},{"gene":"ATM","cohort":"Population controls","without":0.291,"with":0.265},{"gene":"ATM","cohort":"Population controls","without":0.285,"with":0.235},{"gene":"ATM","cohort":"Population controls","without":0.283,"with":0.215},{"gene":"ATM","cohort":"Population controls","without":0.29,"with":0.205},{"gene":"ATM","cohort":"Population controls","without":0.287,"with":0.19},
{"gene":"PALB2","cohort":"Population controls","without":0.509,"with":0.558},{"gene":"PALB2","cohort":"Population controls","without":0.49,"with":0.516},{"gene":"PALB2","cohort":"Population controls","without":0.493,"with":0.5},{"gene":"PALB2","cohort":"Population controls","without":0.495,"with":0.488},{"gene":"PALB2","cohort":"Population controls","without":0.5,"with":0.48},{"gene":"PALB2","cohort":"Population controls","without":0.51,"with":0.48},{"gene":"PALB2","cohort":"Population controls","without":0.498,"with":0.505}
]},
"transform":[{"lookup":"gene","from":{"data":{"values":[{"gene":"non-PV carrier","carrier":"non-PV carrier"},{"gene":"ATM","carrier":"PV carrier"},{"gene":"CHEK2","carrier":"PV carrier"},{"gene":"PALB2","carrier":"PV carrier"}]},"key":"gene","fields":["carrier"]}}],
"facet":{
 "column":{"field":"carrier","type":"nominal","sort":["non-PV carrier","PV carrier"],"title":"Without PRS","header":{"labels":false,"labelPadding":0,"titleOrient":"bottom","titlePadding":1,"titleBaseline":"middle"}},
 "row":{"field":"cohort","type":"nominal","sort":["Familial cases","Population controls"],"title":"Including PRS","header":{"labels":false,"labelPadding":0,"titleOrient":"left","titlePadding":-8}}
},
"align":"each",
"spacing":{"row":4,"column":7},
"spec":{
 "width":289,"height":148,
 "layer":[
  {"mark":{"type":"circle","size":25,"opacity":1},
   "encoding":{
    "x":{"field":"without","type":"quantitative","title":null,"scale":{"domain":[-0.0475,0.9975],"nice":false,"zero":false},
      "axis":{"values":[0,0.125,0.25,0.375,0.5,0.625,0.75,0.875],"labelExpr":"datum.value % 0.25 == 0 ? format(datum.value, '.2f') : ''","tickOpacity":{"condition":{"test":"datum.value % 0.25 != 0","value":0},"value":1},"gridWidth":{"condition":{"test":"datum.value % 0.25 != 0","value":0.55},"value":1.1}}},
    "y":{"field":"with","type":"quantitative","title":null,"scale":{"domain":[-0.0475,0.9975],"nice":false,"zero":false},
      "axis":{"values":[0,0.125,0.25,0.375,0.5,0.625,0.75,0.875],"labelExpr":"datum.value % 0.25 == 0 ? format(datum.value, '.2f') : ''","tickOpacity":{"condition":{"test":"datum.value % 0.25 != 0","value":0},"value":1},"gridWidth":{"condition":{"test":"datum.value % 0.25 != 0","value":0.55},"value":1.1}}},
    "color":{"field":"gene","type":"nominal","scale":{"domain":["non-PV carrier","ATM","CHEK2","PALB2"],"range":["#A52A2A","#A020F0","#008B8B","#FF8C00"]},
      "legend":{"title":null,"orient":"none","legendX":123,"legendY":362,"direction":"horizontal","symbolType":"circle","symbolSize":20,"symbolStrokeWidth":0,"labelFontSize":15,"labelColor":"#000000","labelOffset":10,"columnPadding":7}}
   }},
  {"transform":[{"aggregate":[{"op":"count","as":"n"}],"groupby":["carrier","cohort"]}],
   "layer":[
    {"mark":{"type":"rule","color":"#000000","strokeWidth":1.1},"encoding":{"x":{"datum":0.2}}},
    {"mark":{"type":"rule","color":"#000000","strokeWidth":1.1},"encoding":{"x":{"datum":0.3}}},
    {"mark":{"type":"rule","color":"#000000","strokeWidth":1.1},"encoding":{"y":{"datum":0.2}}},
    {"mark":{"type":"rule","color":"#000000","strokeWidth":1.1},"encoding":{"y":{"datum":0.3}}}
   ]},
  {"transform":[{"filter":"datum.cohort == 'Familial cases'"},{"aggregate":[{"op":"count","as":"n"}],"groupby":["carrier","cohort"]}],
   "layer":[
    {"mark":{"type":"rect","fill":"#D9D9D9","stroke":"#333333","strokeWidth":1},"encoding":{"x":{"datum":-0.0475},"x2":{"datum":0.9975},"y":{"datum":0.9975},"y2":{"datum":1.138}}},
    {"mark":{"type":"text","fontSize":10,"color":"#1A1A1A","baseline":"middle","align":"center"},"encoding":{"x":{"datum":0.475},"y":{"datum":1.068},"text":{"field":"carrier"}}}
   ]},
  {"transform":[{"filter":"datum.carrier == 'PV carrier'"},{"aggregate":[{"op":"count","as":"n"}],"groupby":["carrier","cohort"]}],
   "layer":[
    {"mark":{"type":"rect","fill":"#D9D9D9","stroke":"#333333","strokeWidth":1},"encoding":{"x":{"datum":0.9975},"x2":{"datum":1.0516},"y":{"datum":-0.0475},"y2":{"datum":0.9975}}},
    {"mark":{"type":"text","fontSize":10,"color":"#1A1A1A","baseline":"middle","align":"center","angle":90},"encoding":{"x":{"datum":1.0246},"y":{"datum":0.475},"text":{"field":"cohort"}}}
   ]}
 ]
},
"config":{
 "font":"Liberation Sans",
 "view":{"stroke":"#333333","strokeWidth":1},
 "axis":{"domain":false,"gridColor":"#EBEBEB","tickColor":"#333333","tickSize":4,"labelColor":"#4D4D4D","labelFontSize":14,"labelPadding":-1,"labelOverlap":false,"labelFlush":false,"labelBound":false},
 "header":{"titleFontSize":15,"titleFontWeight":"normal","titleColor":"#000000","titleFont":"Liberation Sans","labelPadding":0},
 "legend":{"labelFont":"Liberation Sans"}
}
}
